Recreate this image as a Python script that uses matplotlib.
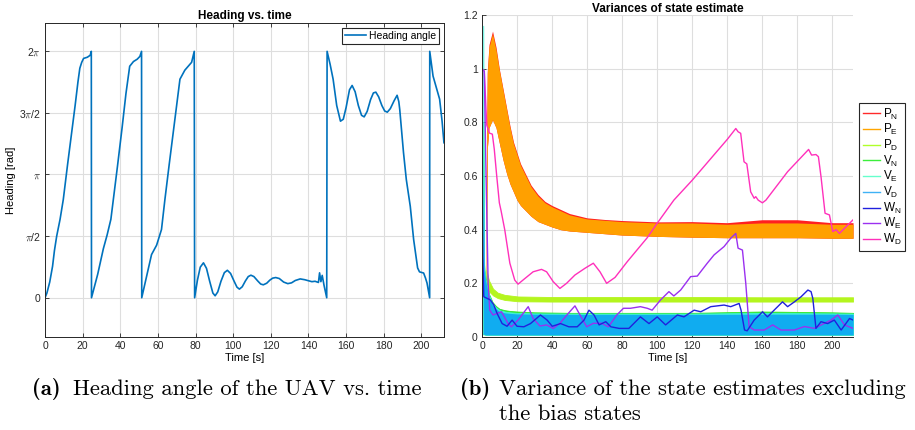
import numpy as np
import matplotlib.pyplot as plt
from matplotlib.lines import Line2D

plt.rcParams['font.family'] = ['Liberation Sans', 'DejaVu Sans']
plt.rcParams['mathtext.fontset'] = 'cm'

AX_GREY = '#262626'
GRID_GREY = '#dedede'

# ---- heading angle (wraps at 2*pi) ----
heading_t = [0, 1, 2.5, 4, 5, 6.2, 8, 9.7, 12, 14, 16, 17.5, 18.5, 19.5, 20.5, 22.5, 24, 24.6,
             24.7, 28, 31, 33, 35, 36.3, 38.5, 41, 43, 45, 47, 49, 50.4, 51.3,
             51.4, 54, 56.6, 59.3, 61.9, 63.7, 66, 69, 71.7, 74.3, 77.9, 79.3,
             79.5, 81, 82.5, 84.2, 85.8, 87.5, 89.2, 90.4, 91.8, 93.5, 95.3, 96.9, 98.6, 100.5,
             102, 103.3, 104.8, 106.5, 108, 109.4, 111, 113, 114.6, 116, 117.8, 119.5, 121,
             122.6, 124.5, 126.8, 129, 131, 133, 135.6, 138, 141.8, 143.5, 145.3, 145.9,
             146.6, 147.3, 148.3, 149.7,
             149.9, 151.5, 153.1, 155, 157, 158.5, 160, 161.8, 163.2, 164.8, 166.5, 168.2,
             169.6, 171.2, 173, 174.5, 175.8, 177.3, 179, 180.5, 181.9, 183.5, 185.5, 187.1,
             188, 188.5, 190.5, 192, 194.1, 195.9, 198, 199, 201.2, 202.2, 203, 204.4,
             204.45, 206.2, 208, 209.7, 211, 212]
heading = [0, 0.12, 0.4, 0.8, 1.2, 1.57, 2.0, 2.5, 3.4, 4.15, 4.9, 5.5, 5.85, 6.0, 6.1, 6.13, 6.18, 6.28,
           0, 0.6, 1.25, 1.6, 2.0, 2.5, 3.35, 4.35, 5.2, 5.9, 6.02, 6.08, 6.15, 6.28,
           0, 0.55, 1.1, 1.34, 1.74, 2.5, 3.4, 4.55, 5.57, 5.8, 6.0, 6.28,
           0, 0.45, 0.78, 0.89, 0.75, 0.42, 0.12, 0.05, 0.15, 0.42, 0.64, 0.70, 0.62, 0.42,
           0.27, 0.22, 0.28, 0.43, 0.54, 0.575, 0.54, 0.43, 0.35, 0.33, 0.37, 0.45, 0.50,
           0.515, 0.49, 0.40, 0.36, 0.38, 0.44, 0.48, 0.46, 0.41, 0.42, 0.39, 0.635,
           0.41, 0.57, 0.31, 0.0,
           6.28, 5.95, 5.57, 4.9, 4.50, 4.55, 4.85, 5.3, 5.41, 5.25, 4.9, 4.65,
           4.61, 4.75, 5.05, 5.22, 5.24, 5.12, 4.9, 4.76, 4.73, 4.82, 5.02, 5.16,
           5.0, 4.80, 3.7, 3.01, 2.33, 1.48, 0.76, 0.66, 0.63, 0.5, 0.375, 0.0,
           6.28, 5.65, 5.35, 5.06, 4.5, 3.95]

# ---- variances: oscillating position / velocity bands (envelopes) ----
p_t = [2.4, 3, 4, 6, 8, 10, 12, 14, 16, 18, 20, 22, 25, 28, 32, 36, 40, 45, 50, 60, 70, 80,
       100, 120, 140, 160, 180, 200, 212]
pn_hi = [0.56, 0.99, 1.09, 1.14, 1.08, 0.995, 0.925, 0.855, 0.786, 0.726, 0.686, 0.646,
         0.606, 0.566, 0.531, 0.505, 0.49, 0.475, 0.46, 0.444, 0.438, 0.434, 0.429, 0.43,
         0.426, 0.437, 0.437, 0.426, 0.426]
pe_hi = [0.55, 0.98, 1.08, 1.13, 1.07, 0.99, 0.92, 0.85, 0.78, 0.72, 0.68, 0.64, 0.60, 0.56,
         0.525, 0.50, 0.485, 0.47, 0.455, 0.44, 0.435, 0.43, 0.425, 0.425, 0.42, 0.425,
         0.425, 0.42, 0.42]
p_lo = [0.0, 0.70, 0.78, 0.81, 0.78, 0.72, 0.66, 0.61, 0.57, 0.54, 0.51, 0.49, 0.47, 0.45,
        0.43, 0.42, 0.41, 0.40, 0.395, 0.39, 0.385, 0.38, 0.375, 0.372, 0.37, 0.37, 0.37,
        0.368, 0.368]

pd_t = [2.5, 4, 6.3, 9, 13, 20.6, 40, 80, 120, 160, 212]
pd_hi = [0.25, 0.21, 0.18, 0.165, 0.157, 0.151, 0.149, 0.149, 0.149, 0.148, 0.148]
pd_lo = [0.2, 0.17, 0.155, 0.145, 0.138, 0.133, 0.132, 0.132, 0.132, 0.132, 0.132]

v_t = [0.7, 1.2, 1.4, 2, 3, 4, 6, 8, 10, 13, 16, 20, 30, 50, 80, 120, 160, 200, 212]
vn_hi = [0.8, 0.27, 0.25, 0.22, 0.19, 0.16, 0.13, 0.115, 0.105, 0.1, 0.097, 0.095, 0.092, 0.09,
         0.09, 0.09, 0.095, 0.092, 0.09]
ve_hi = [1.16, 0.26, 0.245, 0.215, 0.185, 0.155, 0.125, 0.11, 0.1, 0.095, 0.092, 0.09, 0.088,
         0.087, 0.087, 0.087, 0.09, 0.088, 0.087]
vd_hi = [0.68, 0.25, 0.24, 0.21, 0.18, 0.15, 0.12, 0.105, 0.095, 0.09, 0.088, 0.086, 0.085,
         0.084, 0.084, 0.084, 0.085, 0.085, 0.084]
v_lo = [0.01, 0.01, 0.01, 0.008, 0.008, 0.008, 0.008, 0.008, 0.008, 0.008, 0.008, 0.008,
        0.008, 0.008, 0.008, 0.008, 0.008, 0.008, 0.008]

# ---- variances: wind states ----
wn_t = [0, 0.5, 1.0, 4.8, 6.7, 8.6, 11.5, 14.3, 17.2, 20, 23.9, 27.7, 33.4, 37.2, 40.1, 44.9,
        49.6, 54.4, 58.3, 61.1, 64, 66.9, 70.7, 73.6, 78.4, 83.9, 90.5, 95.4, 100.1, 104.9,
        111.6, 115.4, 121.2, 125, 130.7, 138.3, 142.1, 146.9, 148, 150, 151.5, 155.5, 160.3,
        163.1, 166.9, 171.7, 174.6, 178.5, 182.3, 186.2, 188, 189, 190.8, 193.7, 197.5,
        201.3, 205.2, 210, 212]
wn = [0.68, 0.3, 0.15, 0.138, 0.12, 0.088, 0.05, 0.04, 0.063, 0.04, 0.038, 0.05, 0.082, 0.063,
      0.04, 0.05, 0.038, 0.038, 0.063, 0.1, 0.082, 0.045, 0.057, 0.038, 0.032, 0.032, 0.075,
      0.05, 0.075, 0.045, 0.082, 0.075, 0.1, 0.094, 0.113, 0.119, 0.113, 0.125, 0.1, 0.026,
      0.023, 0.063, 0.094, 0.075, 0.1, 0.131, 0.113, 0.131, 0.15, 0.175, 0.169, 0.144, 0.032,
      0.057, 0.05, 0.063, 0.026, 0.069, 0.063]

we_t = [0, 1.3, 2.3, 3.5, 4.4, 6.3, 11.1, 14.9, 16.8, 20.6, 26.4, 29.2, 33.1, 36.9, 40.7, 44.5,
        49.3, 53.1, 56, 59.8, 63.6, 68.4, 72.2, 77, 80.8, 84.8, 90.5, 94.4, 97.2, 102, 106.8,
        109.6, 113.5, 119.2, 123, 128.7, 132.6, 138.3, 142.1, 145, 146.3, 148.8, 150.7, 152.6,
        155.5, 161.3, 166.1, 170.8, 178.5, 184.2, 190, 193.8, 199.4, 203.3, 207.1, 212]
we = [1.0, 0.99, 0.6, 0.2, 0.1, 0.082, 0.094, 0.05, 0.038, 0.063, 0.113, 0.069, 0.041, 0.045,
      0.032, 0.051, 0.088, 0.116, 0.082, 0.038, 0.051, 0.051, 0.038, 0.082, 0.107, 0.107,
      0.113, 0.107, 0.1, 0.138, 0.169, 0.153, 0.175, 0.225, 0.227, 0.275, 0.306, 0.337, 0.368,
      0.386, 0.331, 0.324, 0.2, 0.039, 0.026, 0.026, 0.045, 0.026, 0.026, 0.039, 0.032, 0.045,
      0.063, 0.082, 0.045, 0.032]

wd_t = [0, 1.3, 2.7, 4.2, 5.9, 7, 8.4, 9.9, 10.9, 13, 15.9, 18.7, 20.6, 24.5, 29.2, 34, 36.9,
        40.7, 44.5, 48.3, 53.1, 58.8, 63.6, 67.4, 71.2, 76, 82.9, 88, 94.4, 100.1, 109.6, 120.2,
        140.2, 145, 146.3, 147.8, 149.7, 151.3, 153.5, 155.5, 156.4, 157.8, 160.2, 162.2,
        174.6, 186.6, 188.3, 190.8, 192.2, 193.7, 196, 198.5, 200.4, 202.3, 204.2, 207.1, 211.9]
wd = [1.0, 0.99, 0.79, 0.76, 0.756, 0.70, 0.60, 0.50, 0.47, 0.399, 0.275, 0.212, 0.197, 0.218,
      0.243, 0.252, 0.243, 0.206, 0.181, 0.2, 0.231, 0.256, 0.275, 0.243, 0.2, 0.222, 0.28,
      0.32, 0.37, 0.424, 0.51, 0.585, 0.737, 0.777, 0.765, 0.759, 0.653, 0.645, 0.541, 0.517,
      0.523, 0.51, 0.5, 0.51, 0.616, 0.699, 0.678, 0.68, 0.672, 0.597, 0.461, 0.455, 0.393,
      0.4, 0.386, 0.405, 0.436]

state_labels = ['P_N', 'P_E', 'P_D', 'V_N', 'V_E', 'V_D', 'W_N', 'W_E', 'W_D']
state_colors = ['#ff2a2a', '#ffa500', '#b0ff2a', '#3cee3c', '#66ffcc', '#3fb2f5',
                '#2020dd', '#9b30f0', '#ff30bb']
band_colors = {'P_N': '#ff2020', 'P_E': '#ffa000', 'P_D': '#b4f51e',
               'V_N': '#2ee82e', 'V_E': '#40f0d8', 'V_D': '#10acf0'}


def style_axes(ax, boxed):
    ax.grid(True, color=GRID_GREY, lw=0.8)
    ax.set_axisbelow(True)
    ax.tick_params(direction='in', length=3, width=0.6, colors=AX_GREY, labelsize=7.5,
                   top=boxed, right=boxed, pad=3)
    for side, sp in ax.spines.items():
        sp.set_color(AX_GREY)
        sp.set_linewidth(0.7)
        if not boxed and side in ('top', 'right'):
            sp.set_visible(False)


def band(ax, t, lo, hi, color, edge=True):
    # fast oscillating variance drawn as its envelope
    ax.fill_between(t, lo, hi, facecolor=color, edgecolor=color, lw=0.6 if edge else 0)


fig = plt.figure(figsize=(9.15, 4.3), dpi=100)

# Heading vs. time
ax1 = fig.add_axes([0.0492, 0.2163, 0.436, 0.730])
ax1.plot(heading_t, heading, color='#0072bd', lw=1.2, label='Heading angle')
ax1.set_xlim(0, 212)
ax1.set_ylim(-1, 7)
ax1.set_xticks(np.arange(0, 201, 20))
ax1.set_yticks([0, np.pi / 2, np.pi, 3 * np.pi / 2, 2 * np.pi])
ax1.set_yticklabels(['0', r'$\pi$/2', r'$\pi$', r'3$\pi$/2', r'2$\pi$'])
style_axes(ax1, boxed=True)
ax1.set_title('Heading vs. time', fontsize=8.5, fontweight='bold', pad=3)
ax1.set_xlabel('Time [s]', fontsize=8, labelpad=1)
ax1.set_ylabel('Heading [rad]', fontsize=8, labelpad=2)
leg1 = ax1.legend(loc='upper right', fontsize=7.5, handlelength=2.0, handletextpad=0.3,
                  borderpad=0.25, fancybox=False, framealpha=1, borderaxespad=0.5)
leg1.get_frame().set_edgecolor(AX_GREY)
leg1.get_frame().set_linewidth(0.8)

# Variances of state estimate
ax2 = fig.add_axes([0.5268, 0.2163, 0.4055, 0.7488])
band(ax2, p_t, p_lo, pn_hi, band_colors['P_N'], edge=False)
band(ax2, p_t, p_lo, pe_hi, band_colors['P_E'], edge=False)
band(ax2, pd_t, pd_lo, pd_hi, band_colors['P_D'])
band(ax2, v_t, v_lo, vn_hi, band_colors['V_N'])
band(ax2, v_t, v_lo, ve_hi, band_colors['V_E'])
band(ax2, v_t, v_lo, vd_hi, band_colors['V_D'], edge=False)
ax2.plot(wd_t, wd, color=state_colors[8], lw=1.0)
ax2.plot(we_t, we, color=state_colors[7], lw=1.0)
ax2.plot(wn_t, wn, color=state_colors[6], lw=1.0)
ax2.set_xlim(0, 212)
ax2.set_ylim(0, 1.2)
ax2.set_xticks(np.arange(0, 201, 20))
ax2.set_yticks(np.arange(0, 1.21, 0.2))
ax2.set_yticklabels(['0', '0.2', '0.4', '0.6', '0.8', '1', '1.2'])
style_axes(ax2, boxed=False)
ax2.set_title('Variances of state estimate', fontsize=8.5, fontweight='bold', pad=1)
ax2.set_xlabel('Time [s]', fontsize=8, labelpad=1)

handles = [Line2D([], [], color=c, lw=1.0) for c in state_colors]
labels = [r'$\mathregular{%s_{%s}}$' % tuple(s.split('_')) for s in state_labels]
leg2 = ax2.legend(handles, labels, loc='upper left', bbox_to_anchor=(0.9388, 0.7605),
                  bbox_transform=fig.transFigure, fontsize=8.5, handlelength=1.5,
                  handletextpad=0.2, labelspacing=0.05, borderpad=0.3, fancybox=False,
                  framealpha=1, borderaxespad=0)
leg2.get_frame().set_edgecolor(AX_GREY)
leg2.get_frame().set_linewidth(0.8)

# Captions
cap = dict(fontsize=16.3, va='baseline')
fig.text(32 / 915, 1 - 395 / 430, '(a)', family='cmb10', **cap)
fig.text(73 / 915, 1 - 395 / 430, 'Heading angle of the UAV vs. time', family='cmr10', **cap)
fig.text(460 / 915, 1 - 395 / 430, '(b)', family='cmb10', **cap)
fig.text(499 / 915, 1 - 395 / 430, 'Variance of the state estimates excluding',
         family='cmr10', **cap)
fig.text(499 / 915, 1 - 420 / 430, 'the bias states', family='cmr10', **cap)

fig.savefig('out.png', dpi=100)
